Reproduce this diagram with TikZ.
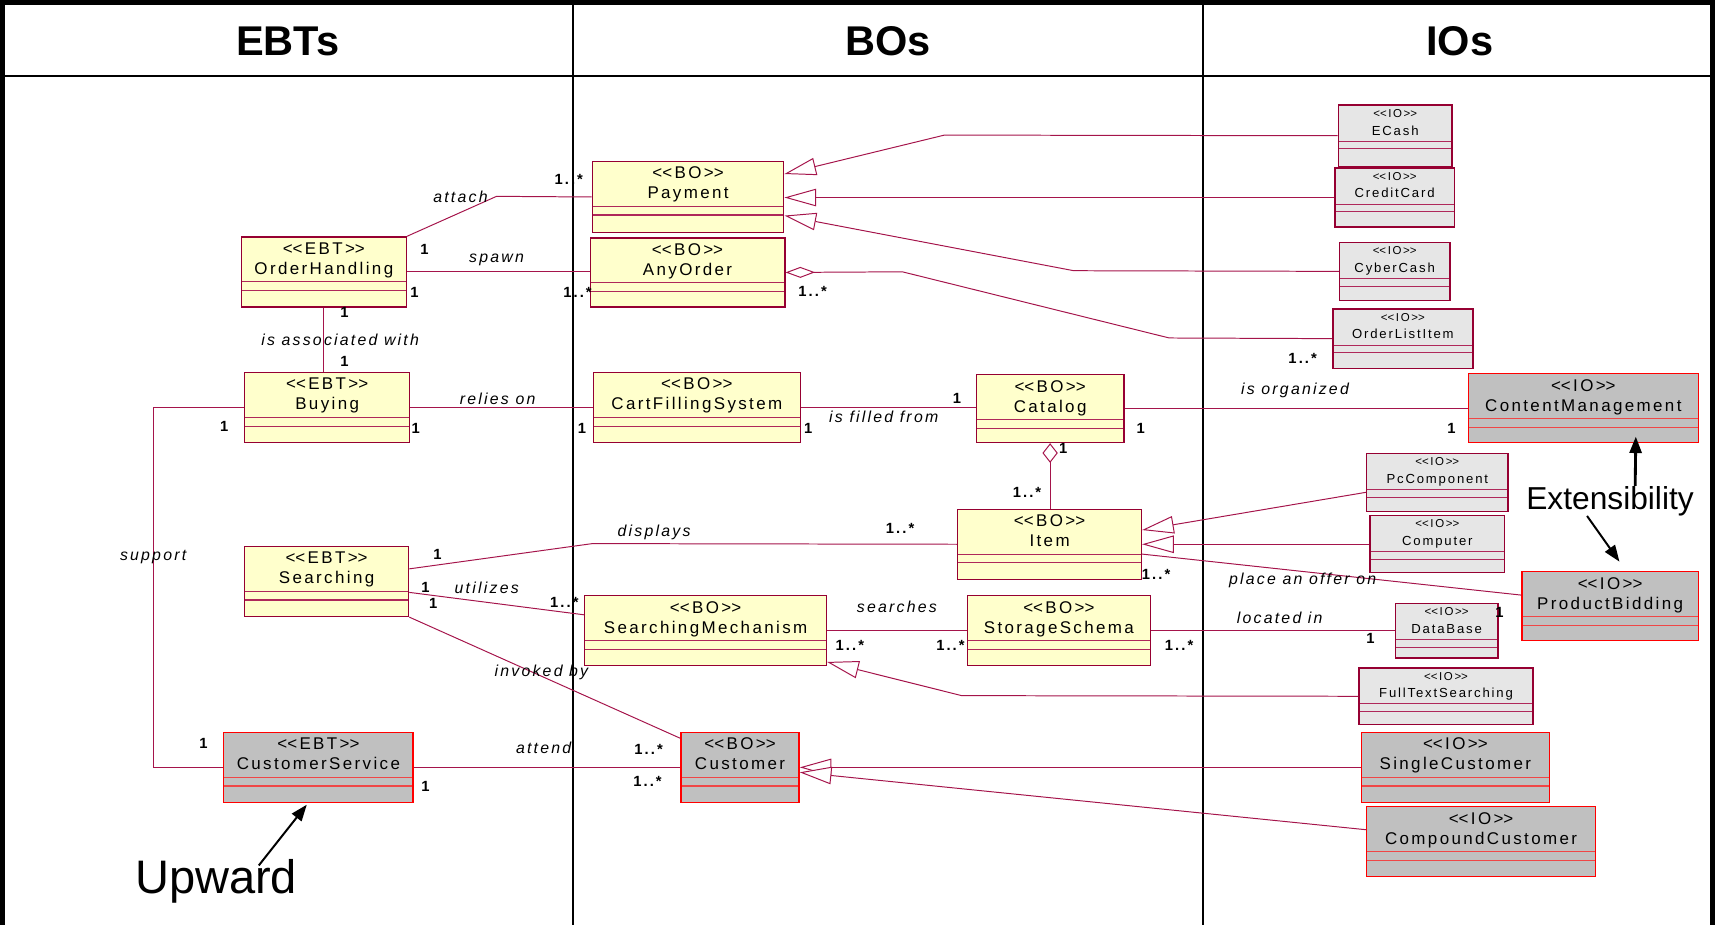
\documentclass[tikz,border=0pt]{standalone}
\usepackage{fontspec}
\usepackage{tikz}
\usetikzlibrary{arrows.meta}

\newfontfamily\umlfont[LetterSpace=14]{Liberation Sans}
\newfontfamily\iofont[LetterSpace=14]{Liberation Sans}
\newfontfamily\headfont{Liberation Sans}

\definecolor{roseline}{RGB}{165,20,75}
\definecolor{roseframe}{RGB}{150,0,50}
\definecolor{rosecomp}{RGB}{175,40,90}
\definecolor{boxyellow}{RGB}{255,255,204}
\definecolor{iolight}{RGB}{230,230,230}
\definecolor{iodark}{RGB}{192,192,192}
\definecolor{redcomp}{RGB}{240,70,70}

\newcommand{\stereo}[1]{<\kern0pt<#1>\kern0pt>}
\newcommand{\iost}{{\fontsize{10.5}{16.2}\selectfont\stereo{IO}}}

\begin{document}
\begin{tikzpicture}[x=1pt, y=-1pt,
    classbox/.style={line width=1.2pt, inner sep=0pt, anchor=north west, minimum height=64pt,
      path picture={\draw[line width=1pt, #1]
        ([yshift=-41pt]path picture bounding box.north west) -- ([yshift=-41pt]path picture bounding box.north east)
        ([yshift=-49pt]path picture bounding box.north west) -- ([yshift=-49pt]path picture bounding box.north east);}},
    bigtext/.style={anchor=north, yshift=-5.5pt, inner sep=0pt, align=center, font=\umlfont\fontsize{15.5}{18.3}\selectfont},
    smalltext/.style={anchor=north, yshift=-4.2pt, inner sep=0pt, align=center, font=\iofont\fontsize{12}{16.2}\selectfont},
    yellowbox/.style={classbox=rosecomp, draw=roseframe, fill=boxyellow, label={[bigtext]north:#1}},
    greybox/.style={classbox=redcomp, draw=red, fill=iodark, label={[bigtext]north:#1}},
    iobox/.style={draw=roseframe, fill=iolight, line width=1.2pt, inner sep=0pt, anchor=north west, minimum height=53pt,
      path picture={\draw[line width=1pt, rosecomp]
        ([yshift=-33pt]path picture bounding box.north west) -- ([yshift=-33pt]path picture bounding box.north east)
        ([yshift=-40pt]path picture bounding box.north west) -- ([yshift=-40pt]path picture bounding box.north east);},
      label={[smalltext]north:#1}},
    assoc/.style={draw=roseline, line width=0.9pt},
    inherit/.style={assoc, -{Triangle[open, fill=white, length=29pt, width=16pt]}},
    aggr/.style={assoc, {Diamond[open, fill=white, length=27pt, width=10pt]}-},
    role/.style={inner sep=0pt, font=\umlfont\itshape\fontsize{14.5}{16}\selectfont},
    mult/.style={inner sep=0pt, font=\umlfont\bfseries\fontsize{13.5}{15}\selectfont},
    callout/.style={line width=1.8pt, -{Triangle[length=15pt, width=11pt]}}]

    \useasboundingbox (0,0) rectangle (1568,846);

    % frame and swimlanes
    \fill (0,0) rectangle (1568,5);
    \fill (0,0) rectangle (5,846);
    \fill (1563,0) rectangle (1568,846);
    \draw[line width=2.5pt] (5,69.5) -- (1563,69.5);
    \draw[line width=1.8pt] (524,5) -- (524,846);
    \draw[line width=1.8pt] (1099.5,5) -- (1099.5,846);

    \node[font=\headfont\bfseries\fontsize{38}{40}\selectfont] (hebt) at (263,37.5) {EBTs};
    \node[font=\headfont\bfseries\fontsize{38}{40}\selectfont] (hbo) at (812,37.5) {BOs};
    \node[font=\headfont\bfseries\fontsize{38}{40}\selectfont] (hio) at (1334.5,37.5) {IOs};

    % EBTs
    \node[yellowbox={\stereo{EBT}\\OrderHandling}, minimum width=151pt] (orderhandling) at (220,216) {};
    \node[yellowbox={\stereo{EBT}\\Buying}, minimum width=151pt] (buying) at (223,340) {};
    \node[yellowbox={\stereo{EBT}\\Searching}, minimum width=150pt] (searching) at (223,499) {};
    \node[greybox={\stereo{EBT}\\CustomerService}, minimum width=173pt] (customerservice) at (204,669) {};

    % BOs
    \node[yellowbox={\stereo{BO}\\Payment}, minimum width=175pt, minimum height=65pt] (payment) at (541,147) {};
    \node[yellowbox={\stereo{BO}\\AnyOrder}, minimum width=178pt, minimum height=63pt] (anyorder) at (539,217) {};
    \node[yellowbox={\stereo{BO}\\CartFillingSystem}, minimum width=189pt] (cartfilling) at (542,340) {};
    \node[yellowbox={\stereo{BO}\\Catalog}, minimum width=135pt, minimum height=62pt] (catalog) at (892,342) {};
    \node[yellowbox={\stereo{BO}\\Item}, minimum width=168pt] (item) at (875,465) {};
    \node[yellowbox={\stereo{BO}\\SearchingMechanism}, minimum width=221pt] (searchmech) at (534,544) {};
    \node[yellowbox={\stereo{BO}\\StorageSchema}, minimum width=167pt] (storage) at (884,544) {};
    \node[greybox={\stereo{BO}\\Customer}, minimum width=108pt] (customer) at (622,669) {};

    % IOs
    \node[iobox={\iost\\ECash}, minimum width=104pt, minimum height=56pt] (ecash) at (1223,95.5) {};
    \node[iobox={\iost\\CreditCard}, minimum width=109pt, minimum height=54pt] (creditcard) at (1220,153) {};
    \node[iobox={\iost\\CyberCash}, minimum width=101pt] (cybercash) at (1224,221) {};
    \node[iobox={\iost\\OrderListItem}, minimum width=128pt, minimum height=54pt] (orderlistitem) at (1218,282) {};
    \node[iobox={\iost\\PcComponent}, minimum width=129pt] (pccomponent) at (1249,414) {};
    \node[iobox={\iost\\Computer}, minimum width=123pt, minimum height=52pt] (computer) at (1252,471) {};
    \node[iobox={\iost\\DataBase}, minimum width=94pt, minimum height=50pt] (database) at (1275,551) {};
    \node[iobox={\iost\\FullTextSearching}, minimum width=159pt, minimum height=52pt] (fulltext) at (1242,610) {};
    \node[greybox={\stereo{IO}\\ContentManagement}, minimum width=210pt, minimum height=63pt] (contentmgmt) at (1342,341) {};
    \node[greybox={\stereo{IO}\\ProductBidding}, minimum width=161pt, minimum height=63pt] (productbidding) at (1391,522) {};
    \node[greybox={\stereo{IO}\\SingleCustomer}, minimum width=172pt] (singlecustomer) at (1244,669) {};
    \node[greybox={\stereo{IO}\\CompoundCustomer}, minimum width=209pt] (compoundcustomer) at (1249,737) {};

    % associations
    \draw[assoc] (orderhandling.north east) -- (454,179.5) -- (payment.west);
    \draw[assoc] (orderhandling.east) -- (orderhandling.east -| anyorder.west);
    \draw[assoc] (orderhandling.south) -- (orderhandling.south |- buying.north);
    \draw[assoc] (buying.east) -- (buying.east -| cartfilling.west);
    \draw[assoc] (buying.west) -- ++(-83,0) |- (customerservice.west);
    \draw[assoc] (cartfilling.east) -- (cartfilling.east -| catalog.west);
    \draw[assoc] (catalog.east) -- (catalog.east -| contentmgmt.west);
    \draw[assoc, {Diamond[open, fill=white, length=18pt, width=14pt]}-] (catalog.south) -- (catalog.south |- item.north);
    \draw[assoc] ([yshift=11.5pt]searching.east) -- (541.6,497) -- (item.west);
    \draw[assoc] ([yshift=-10pt]searching.east) -- ([yshift=14.5pt]searchmech.west);
    \draw[assoc] (searching.south east) -- ([yshift=-6pt]customer.north west);
    \draw[assoc] (searchmech.east) -- (storage.west);
    \draw[assoc] (storage.east) -- (database.west);
    \draw[assoc] (customerservice.east) -- (customer.west);
    \draw[assoc] ([yshift=-9pt]item.east) -- ([yshift=10pt]productbidding.west);
    \draw[aggr] (anyorder.east) -- (825,248.5) -- (1069,309) -- (orderlistitem.west);

    % generalizations
    \draw[inherit] (ecash.west) -- (863.5,123.5) -- ([yshift=21pt]payment.east);
    \draw[inherit] (creditcard.west) -- (creditcard.west -| payment.east);
    \draw[inherit] (cybercash.west) -- (981.7,247.5) -- ([yshift=-17pt]payment.east);
    \draw[inherit] ([yshift=-9pt]pccomponent.west) -- ([yshift=13pt]item.east);
    \draw[inherit] (computer.west) -- (item.east);
    \draw[inherit] (fulltext.west) -- (879.3,636) -- ([yshift=4pt]searchmech.south east);
    \draw[inherit] (singlecustomer.west) -- (customer.east);
    \draw[inherit] ([yshift=11pt]compoundcustomer.west) -- ([yshift=-4.5pt]customer.east);

    % association names
    \node[role] (lattach) at (421,180) {attach};
    \node[role] (lspawn) at (454,238) {spawn};
    \node[role] (lassoc) at (311,311) {is associated with};
    \node[role] (lrelies) at (455,365) {relies on};
    \node[role] (lsupport) at (140,509) {support};
    \node[role] (lfilled) at (808,381) {is filled from};
    \node[role] (lorganized) at (1184,357) {is organized};
    \node[role] (ldisplays) at (598,487) {displays};
    \node[role] (lutilizes) at (445,537) {utilizes};
    \node[role] (linvoked) at (495,615) {invoked by};
    \node[role] (lsearches) at (820,555) {searches};
    \node[role] (llocated) at (1170,565) {located in};
    \node[role] (lattend) at (497,684) {attend};
    \node[role] (loffer) at (1191,531) {place an offer on};

    % multiplicities
    \node[mult] (m1) at (520,164) {1..*};
    \node[mult] (m2) at (388,228) {1};
    \node[mult] (m3) at (379,267) {1};
    \node[mult] (m4) at (528,267) {1..*};
    \node[mult] (m5) at (315,286) {1};
    \node[mult] (m6) at (315,330) {1};
    \node[mult] (m7) at (380,392) {1};
    \node[mult] (m8) at (532,392) {1};
    \node[mult] (m9) at (205,390) {1};
    \node[mult] (m10) at (186,680) {1};
    \node[mult] (m11) at (739,392) {1};
    \node[mult] (m12) at (875,364) {1};
    \node[mult] (m13) at (1043,392) {1};
    \node[mult] (m14) at (1327,392) {1};
    \node[mult] (m15) at (972,410) {1};
    \node[mult] (m16) at (939,450) {1..*};
    \node[mult] (m17) at (743,266) {1..*};
    \node[mult] (m18) at (1191,328) {1..*};
    \node[mult] (m19) at (400,507) {1};
    \node[mult] (m20) at (823,483) {1..*};
    \node[mult] (m21) at (389,537) {1};
    \node[mult] (m22) at (396,552) {1};
    \node[mult] (m23) at (516,551) {1..*};
    \node[mult] (m24) at (777,590) {1..*};
    \node[mult] (m25) at (869,590) {1..*};
    \node[mult] (m26) at (1078,590) {1..*};
    \node[mult] (m27) at (1253,584) {1};
    \node[mult] (m28) at (1057,525) {1..*};
    \node[mult] (m29) at (1371,560) {1};
    \node[mult] (m30) at (593,685) {1..*};
    \node[mult] (m31) at (389,719) {1};
    \node[mult] (m32) at (592,714) {1..*};

    % callouts
    \node[inner sep=0pt, font=\headfont\fontsize{43}{45}\selectfont] (upward) at (197.6,805.5) {Upward};
    \node[inner sep=0pt, font=\headfont\fontsize{29}{31}\selectfont] (ext) at (1472,458) {Extensibility};
    \draw[callout] ([xshift=39pt,yshift=-6pt]upward.north) -- ([xshift=-10.6pt,yshift=-1.5pt]customerservice.south);
    \draw[callout, line width=2.6pt] ([xshift=23pt]ext.north) -- ([xshift=48pt,yshift=6pt]contentmgmt.south);
    \draw[callout] ([xshift=-21pt]ext.south) -- ([xshift=8.5pt,yshift=8.5pt]productbidding.north);
\end{tikzpicture}
\end{document}
